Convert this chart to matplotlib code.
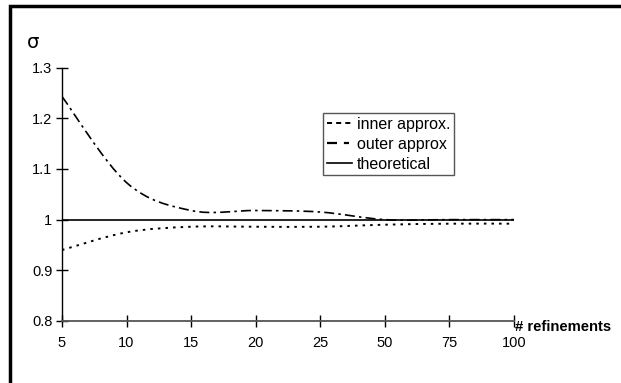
import matplotlib
matplotlib.use("Agg")
import matplotlib.pyplot as plt
import numpy as np
from matplotlib.path import Path
from matplotlib.patches import PathPatch, Rectangle
from matplotlib.lines import Line2D

plt.rcParams['font.family'] = ['Liberation Sans', 'DejaVu Sans']

# data (categories are equally spaced on the axis, as in the original sheet)
refinements = ['5', '10', '15', '20', '25', '50', '75', '100']
inner_approx = [0.940, 0.975, 0.986, 0.986, 0.986, 0.990, 0.992, 0.992]
outer_approx = [1.243, 1.073, 1.018, 1.018, 1.015, 1.000, 1.000, 1.000]
theoretical = [1.0, 1.0, 1.0, 1.0, 1.0, 1.0, 1.0, 1.0]


def smooth_path(xs, ys):
    # spreadsheet-style smoothed line: cubic bezier through every point
    pts = np.column_stack([xs, ys]).astype(float)
    n = len(pts)
    verts = [pts[0]]
    codes = [Path.MOVETO]
    for i in range(n - 1):
        p0 = pts[max(i - 1, 0)]
        p1 = pts[i]
        p2 = pts[i + 1]
        p3 = pts[min(i + 2, n - 1)]
        verts += [p1 + (p2 - p0) / 6.0, p2 - (p3 - p1) / 6.0, p2]
        codes += [Path.CURVE4] * 3
    return Path(verts, codes)


fig = plt.figure(figsize=(6.21, 3.83), dpi=100)
ax = fig.add_axes([0.0998, 0.1619, 0.728, 0.6616])

x = np.arange(len(refinements))

inner_style = dict(color='black', lw=1.4, linestyle=(0, (1.3, 2.6)))
outer_style = dict(color='black', lw=1.2, linestyle=(0, (6, 2.5, 1.5, 2.5)))
theo_style = dict(color='black', lw=1.2, linestyle='-')

for ys, st in [(inner_approx, inner_style), (outer_approx, outer_style)]:
    patch = PathPatch(smooth_path(x, ys), facecolor='none', edgecolor=st['color'],
                      lw=st['lw'], linestyle=st['linestyle'], capstyle='butt')
    ax.add_patch(patch)
ax.plot(x, theoretical, **theo_style)

ax.set_xlim(0, len(refinements) - 1)
ax.set_ylim(0.8, 1.3)
ax.set_yticks([0.8, 0.9, 1.0, 1.1, 1.2, 1.3])
ax.set_yticklabels(['0.8', '0.9', '1', '1.1', '1.2', '1.3'])
ax.set_xticks(x)
ax.set_xticklabels(refinements)

for s in ['top', 'right']:
    ax.spines[s].set_visible(False)
ax.spines['left'].set_color('black')
ax.spines['left'].set_linewidth(1.0)
ax.spines['bottom'].set_color('#555555')
ax.spines['bottom'].set_linewidth(1.3)
ax.tick_params(axis='both', direction='inout', length=8, width=1.0,
               labelsize=10.5, color='black')
ax.tick_params(axis='x', pad=6.5)
ax.tick_params(axis='y', pad=3)

fig.text(27 / 621, 1 - 43 / 383, 'σ', fontsize=14, ha='left', va='center',
         family=['DejaVu Sans'])
fig.text(515 / 621, 1 - 327 / 383, '# refinements', fontsize=10.6,
         fontweight='bold', ha='left', va='center')

# legend samples are drawn with the coarser pattern seen in the original key
handles = [Line2D([], [], color='black', lw=1.4, linestyle=(0, (2.6, 2.1))),
           Line2D([], [], color='black', lw=1.6, linestyle=(0, (4.5, 3.1, 2.3, 6))),
           Line2D([], [], **theo_style)]
leg = fig.legend(handles, ['inner approx.', 'outer approx', 'theoretical'],
                 loc='upper left', bbox_to_anchor=(323 / 621, 1 - 113 / 383),
                 fontsize=11.5, fancybox=False, framealpha=1, edgecolor='#555555',
                 handlelength=1.6, handletextpad=0.3, borderpad=0.22,
                 labelspacing=0.32, borderaxespad=0)
leg.get_frame().set_linewidth(1.0)

# page border around the figure
fig.add_artist(Rectangle((10 / 621, -0.05), 1.2, 1 - 6 / 383 + 0.05,
                         transform=fig.transFigure, fill=False,
                         edgecolor='black', lw=2.5))

fig.savefig('out.png', dpi=100)
